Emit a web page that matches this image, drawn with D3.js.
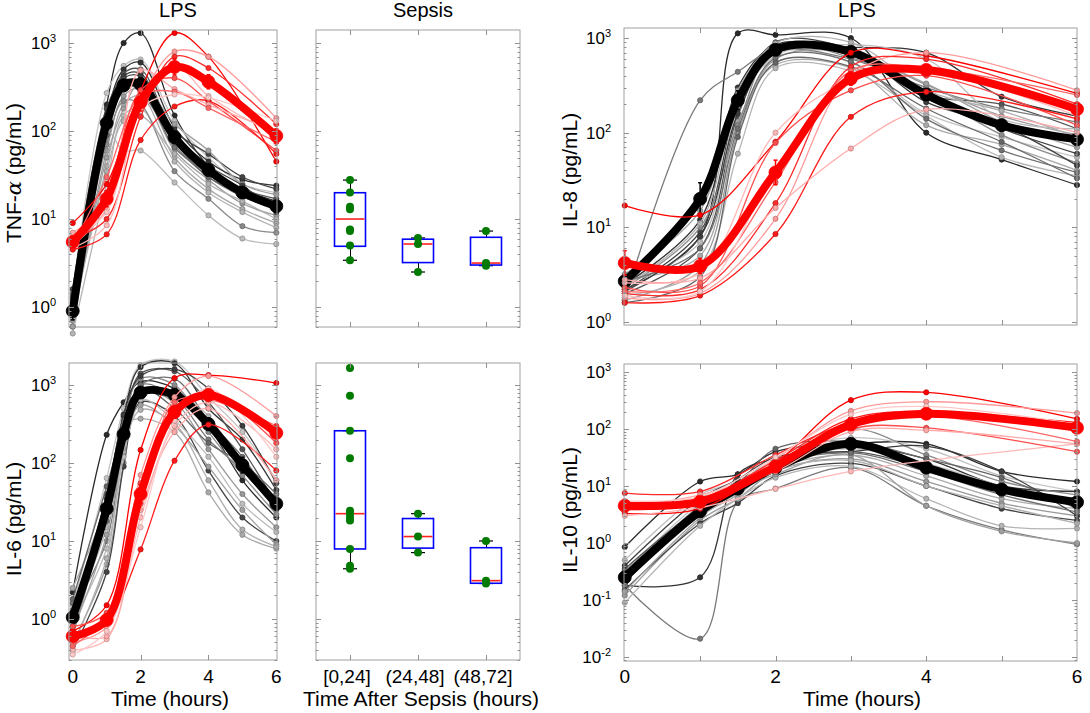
<!DOCTYPE html>
<html>
<head>
<meta charset="utf-8">
<script src="https://cdn.jsdelivr.net/npm/d3@7"></script>
<style>
body { margin: 0; background: #fff; }
svg text { font-family: "Liberation Sans", Arial, sans-serif; fill: #000; }
</style>
</head>
<body>
<svg width="1090" height="713"></svg>
<script>
// sample times (hours)
var grayTimes = [0, 1, 1.5, 2, 3, 4, 5, 6];
var redTimes = [0, 1, 2, 3, 4, 6];

// TNF-alpha, LPS
var tnfGray = [
  [0.6, 200, 1000, 1300, 150, 40, 22, 16],
  [1.5, 270, 550, 650, 130, 50, 25, 20],
  [1.0, 150, 500, 600, 110, 45, 28, 24],
  [0.8, 120, 450, 500, 90, 38, 22, 17],
  [1.2, 80, 300, 380, 70, 30, 18, 13],
  [0.7, 60, 250, 300, 60, 28, 15, 11],
  [1.6, 180, 400, 420, 100, 55, 30, 22],
  [0.9, 40, 200, 250, 50, 22, 13, 9],
  [0.5, 25, 150, 180, 45, 20, 12, 8],
  [1.1, 100, 60, 60, 26, 11, 6, 5.2],
  [0.9, 70, 220, 200, 35, 17, 8.3, 7],
  [1.3, 90, 350, 280, 75, 30, 19, 14],
  [0.6, 50, 180, 350, 120, 60, 25, 19],
  [1.0, 130, 420, 450, 85, 40, 24, 12],
  [0.75, 35, 130, 150, 55, 25, 16, 10],
  [1.4, 110, 380, 330, 65, 33, 20, 15]
];
var tnfRed = [
  [9, 25, 290, 1300, 700, 45],
  [5, 13, 215, 800, 700, 140],
  [6, 10, 145, 700, 520, 120],
  [4.7, 8.5, 200, 560, 250, 90],
  [5.5, 20, 290, 400, 220, 60],
  [4.5, 6.7, 79, 190, 220, 55],
  [7, 15, 490, 300, 200, 100],
  [5, 30, 250, 280, 183, 75],
  [6, 12, 180, 260, 240, 130]
];
var tnfBlackMean = [0.9, 123, 330, 340, 85, 36, 20, 14];
var tnfBlackErr = [0.1, 0.08, 0.07, 0.07, 0.07, 0.06, 0.05, 0.05];
var tnfRedMean = [5.5, 17, 213, 535, 363, 88];
var tnfRedErr = [0.05, 0.09, 0.1, 0.09, 0.08, 0.08];

// IL-8, LPS
var il8Gray = [
  [2.2, 8, 1120, 1080, 1000, 100, 52, 28],
  [3.0, 20, 250, 700, 550, 160, 90, 55],
  [2.5, 12, 300, 850, 800, 700, 240, 150],
  [2.0, 6, 150, 800, 650, 250, 200, 110],
  [1.7, 220, 440, 750, 600, 300, 180, 130],
  [1.7, 4, 100, 600, 700, 320, 150, 95],
  [2.2, 9, 200, 900, 750, 230, 110, 60],
  [2.8, 5, 130, 520, 480, 120, 75, 40],
  [1.9, 3.5, 60, 480, 450, 150, 55, 35],
  [2.6, 7, 180, 650, 850, 600, 140, 110],
  [2.3, 10, 120, 780, 620, 270, 95, 48],
  [1.6, 3, 90, 550, 500, 180, 80, 33],
  [3.2, 15, 280, 820, 680, 330, 130, 70],
  [2.1, 8, 160, 700, 720, 210, 120, 45],
  [2.4, 11, 230, 880, 900, 280, 170, 90],
  [2.7, 6, 110, 620, 560, 140, 65, 38]
];
var il8Red = [
  [17, 13.5, 80, 700, 650, 260],
  [1.8, 2.0, 12.3, 400, 700, 280],
  [2.0, 2.2, 18, 500, 600, 200],
  [2.6, 3.3, 100, 350, 450, 150],
  [2.3, 2.4, 78, 280, 400, 120],
  [1.6, 1.9, 8.5, 147, 270, 140],
  [2.8, 2.9, 16, 68, 175, 100],
  [2.1, 2.6, 30, 450, 480, 250],
  [1.9, 2.1, 40, 380, 420, 180]
];
var il8BlackMean = [2.7, 20, 220, 750, 715, 253, 120, 85];
var il8BlackErr = [0.05, 0.17, 0.1, 0.05, 0.05, 0.06, 0.06, 0.05];
var il8RedMean = [4.2, 3.9, 38, 373, 460, 177];
var il8RedErr = [0.13, 0.08, 0.13, 0.07, 0.05, 0.06];

// IL-6, LPS
var il6Gray = [
  [2.2, 230, 600, 1100, 900, 300, 60, 20],
  [1.5, 64, 500, 1800, 2000, 700, 250, 60],
  [1.0, 40, 400, 1700, 1900, 500, 200, 45],
  [0.8, 20, 250, 1400, 1500, 600, 150, 30],
  [1.3, 10, 180, 1000, 700, 200, 80, 25],
  [0.5, 5, 100, 800, 600, 150, 40, 15],
  [0.4, 4, 90, 600, 400, 80, 20, 10],
  [2.5, 30, 300, 370, 250, 42, 12, 8],
  [1.1, 15, 200, 700, 800, 400, 90, 35],
  [0.9, 8, 120, 650, 350, 120, 30, 13],
  [0.6, 25, 350, 1200, 1000, 250, 70, 22],
  [1.8, 50, 280, 900, 500, 180, 100, 40],
  [0.7, 12, 150, 550, 300, 90, 25, 9],
  [1.2, 35, 420, 1300, 1600, 900, 300, 55],
  [0.45, 6, 140, 480, 320, 60, 14, 8.5],
  [1.6, 18, 230, 1000, 1200, 350, 120, 28]
];
var il6Red = [
  [0.7, 1.5, 147, 1230, 1340, 1060],
  [0.5, 0.8, 70, 700, 1300, 400],
  [0.6, 1.0, 40, 450, 750, 250],
  [0.4, 0.55, 20, 300, 600, 150],
  [0.8, 1.2, 55, 500, 800, 180],
  [0.55, 0.9, 7.8, 107, 310, 80],
  [0.65, 0.6, 25, 250, 500, 60],
  [0.45, 1.1, 30, 600, 650, 300],
  [0.35, 0.7, 15, 350, 900, 120]
];
var il6BlackMean = [1.05, 26, 234, 800, 745, 315, 94, 30];
var il6BlackErr = [0.08, 0.1, 0.08, 0.05, 0.06, 0.08, 0.1, 0.08];
var il6RedMean = [0.6, 0.97, 40, 450, 745, 243];
var il6RedErr = [0.06, 0.06, 0.12, 0.08, 0.06, 0.1];

// IL-10, LPS
var il10Gray = [
  [0.85, 12, 16, 40, 55, 55, 18, 12],
  [0.3, 5, 10, 35, 70, 45, 15, 8],
  [0.18, 0.25, 16, 30, 50, 30, 10, 8],
  [0.35, 4, 8, 25, 40, 20, 8, 6],
  [0.18, 0.021, 5.3, 9, 21, 4.5, 1.7, 0.95],
  [0.12, 2.5, 6, 18, 30, 12, 5, 3],
  [0.15, 2.2, 5, 15, 25, 10, 4, 2.5],
  [0.25, 3, 7, 20, 35, 15, 6, 4],
  [0.09, 2, 6, 14, 22, 6, 2, 1.8],
  [0.5, 7, 12, 28, 45, 25, 10, 5],
  [0.2, 3.5, 9, 22, 100, 35, 12, 7],
  [0.28, 4.5, 11, 45, 60, 30, 14, 4],
  [0.14, 2.8, 8, 16, 35, 4.5, 1.6, 1.0],
  [0.4, 6, 13, 32, 40, 50, 18, 3],
  [0.22, 3.2, 7.5, 19, 28, 10, 4.5, 2.2],
  [0.32, 4, 9, 24, 38, 18, 7, 3.5]
];
var il10Red = [
  [3.3, 4, 25, 320, 440, 150],
  [4.5, 5, 30, 207, 300, 190],
  [7.5, 8, 35, 130, 190, 130],
  [3.0, 4.2, 8.9, 18, null, 55],
  [4, 5.5, 20, 100, 105, 40],
  [5, 6, 28, 150, 200, 100],
  [4.2, 7, 18, 90, 95, 55],
  [3.8, 5, 22, 110, 170, 60],
  [5.5, 6.5, 32, 180, 250, 120]
];
var il10BlackMean = [0.25, 3.6, 9, 21, 55, 21, 8.7, 5.2];
var il10BlackErr = [0.1, 0.06, 0.05, 0.05, 0.05, 0.06, 0.06, 0.06];
var il10RedMean = [4.5, 5.3, 22, 120, 185, 105];
var il10RedErr = [0.05, 0.05, 0.06, 0.07, 0.06, 0.07];

// sepsis box plots: [low whisker, q1, median, q3, high whisker]
var sepsisGroups = ["[0,24]", "(24,48]", "(48,72]"];
var sepsisTnfBox = [[3.4, 4.9, 10, 19.9, 27.7], [2.5, 3.2, 5.2, 5.9, 6.1], [2.95, 3.0, 3.16, 6.2, 7.3]];
var sepsisTnfPoints = [[27.7, 20, 13.8, 12.9, 7.6, 7.3, 5.0, 3.4], [6.1, 5.2, 2.5], [7.3, 3.16, 2.95]];
var sepsisIl6Box = [[4.4, 7.9, 22.4, 259, 259], [7.1, 8.1, 11.4, 19.4, 22.4], [2.85, 2.87, 3.1, 8.2, 10]];
var sepsisIl6Points = [[1650, 730, 259, 115, 24.5, 22.3, 20.2, 18.3, 7.9, 4.8, 4.4], [22.4, 11.4, 7.1], [10, 3.1, 2.85]];

// line shades
var grayShades = ["#2a2a2a", "#c4c4c4", "#333333", "#555555", "#7a7a7a", "#999999", "#444444", "#aaaaaa",
  "#b5b5b5", "#bdbdbd", "#8a8a8a", "#666666", "#a0a0a0", "#3d3d3d", "#b0b0b0", "#707070"];
var redShades = ["#ff0000", "#ff9a9a", "#ff2a2a", "#ffb8b8", "#ff4d4d", "#ff1a1a", "#ffaaaa", "#ff6666", "#ffc8c8"];

var svg = d3.select("svg");

function frame(g, x, y, box, xTicks) {
  g.append("rect")
    .attr("x", box.left).attr("y", box.top)
    .attr("width", box.right - box.left).attr("height", box.bottom - box.top)
    .attr("fill", "none").attr("stroke", "#a0a0a0").attr("stroke-width", 1);

  var d = y.domain();
  var lo = Math.floor(Math.log10(d[0])), hi = Math.ceil(Math.log10(d[1]));
  for (var e = lo; e <= hi; e++) {
    for (var k = 1; k <= 9; k++) {
      var v = k * Math.pow(10, e);
      if (v < d[0] || v > d[1]) continue;
      var len = k == 1 ? 5 : 2.5;
      var yy = Math.round(y(v)) + 0.5;
      g.append("line").attr("x1", box.left).attr("x2", box.left + len).attr("y1", yy).attr("y2", yy)
        .attr("stroke", "#909090");
      g.append("line").attr("x1", box.right).attr("x2", box.right - len).attr("y1", yy).attr("y2", yy)
        .attr("stroke", "#909090");
    }
  }
  xTicks.forEach(function(t) {
    var xx = Math.round(x(t)) + 0.5;
    g.append("line").attr("x1", xx).attr("x2", xx).attr("y1", box.top).attr("y2", box.top + 5).attr("stroke", "#909090");
    g.append("line").attr("x1", xx).attr("x2", xx).attr("y1", box.bottom).attr("y2", box.bottom - 5).attr("stroke", "#909090");
  });
}

function yLabels(g, y, xEnd) {
  var d = y.domain();
  var lo = Math.ceil(Math.log10(d[0]) - 1e-9), hi = Math.floor(Math.log10(d[1]) + 1e-9);
  for (var e = lo; e <= hi; e++) {
    var t = g.append("text").attr("x", xEnd).attr("y", y(Math.pow(10, e)) + 6)
      .attr("text-anchor", "end").style("font-size", "17px");
    t.append("tspan").text("10");
    t.append("tspan").attr("dy", -7).style("font-size", "11px").text(e);
  }
}

function drawSeries(g, x, y, times, vals, color, width, r, dotFill, dotStroke) {
  var pts = times.map(function(t, i) { return [t, vals[i]]; })
    .filter(function(p) { return p[1] != null; });
  var line = d3.line()
    .x(function(p) { return x(p[0]); })
    .y(function(p) { return y(p[1]); })
    .curve(d3.curveCatmullRom.alpha(0.5));
  g.append("path").datum(pts).attr("d", line)
    .attr("fill", "none").attr("stroke", color).attr("stroke-width", width)
    .attr("stroke-linejoin", "round").attr("stroke-linecap", "round");
  g.selectAll(null).data(pts).enter().append("circle")
    .attr("cx", function(p) { return x(p[0]); })
    .attr("cy", function(p) { return y(p[1]); })
    .attr("r", r).attr("fill", dotFill).attr("stroke", dotStroke).attr("stroke-width", 0.8);
}

function errBars(g, x, y, times, vals, errs, color) {
  times.forEach(function(t, i) {
    var lo = vals[i] / Math.pow(10, errs[i]), hi = vals[i] * Math.pow(10, errs[i]);
    var xx = x(t);
    g.append("line").attr("x1", xx).attr("x2", xx).attr("y1", y(lo)).attr("y2", y(hi))
      .attr("stroke", color).attr("stroke-width", 1.5);
    [lo, hi].forEach(function(v) {
      g.append("line").attr("x1", xx - 2).attr("x2", xx + 2).attr("y1", y(v)).attr("y2", y(v))
        .attr("stroke", color).attr("stroke-width", 1.5);
    });
  });
}

function lpsPanel(box, xDomain, yDomain, xTicks, labelEnd, gray, red, bMean, bErr, rMean, rErr) {
  var x = d3.scaleLinear().domain(xDomain).range([box.left, box.right]);
  var y = d3.scaleLog().domain(yDomain).range([box.bottom, box.top]);
  var g = svg.append("g");

  gray.forEach(function(vals, i) {
    var c = grayShades[i % grayShades.length];
    drawSeries(g, x, y, grayTimes, vals, c, 1.3, 2.6, c, d3.color(c).darker(0.8));
  });
  errBars(g, x, y, grayTimes, bMean, bErr, "#000");
  drawSeries(g, x, y, grayTimes, bMean, "#000", 8, 6.5, "#000", "#000");
  red.forEach(function(vals, i) {
    var c = redShades[i % redShades.length];
    drawSeries(g, x, y, redTimes, vals, c, 1.3, 2.6, c, d3.color(c).darker(0.8));
  });
  errBars(g, x, y, redTimes, rMean, rErr, "#ff0000");
  drawSeries(g, x, y, redTimes, rMean, "#ff0000", 8, 6.5, "#ff0000", "#ff0000");

  frame(g, x, y, box, xTicks);
  yLabels(g, y, labelEnd);
  return x;
}

function sepsisPanel(box, yDomain, boxes, points) {
  var x = d3.scaleBand().domain(sepsisGroups).range([box.left, box.right]);
  var y = d3.scaleLog().domain(yDomain).range([box.bottom, box.top]);
  var g = svg.append("g");
  var cx = function(name) { return x(name) + x.bandwidth() / 2; };
  frame(g, { }, y, box, []);
  sepsisGroups.forEach(function(name, i) {
    var b = boxes[i], c = cx(name), w = 31, cw = 14;
    var xx = Math.round(c) + 0.5;
    g.append("line").attr("x1", xx).attr("x2", xx).attr("y1", y(b[0])).attr("y2", y(b[1])).attr("stroke", "#000");
    g.append("line").attr("x1", xx).attr("x2", xx).attr("y1", y(b[3])).attr("y2", y(b[4])).attr("stroke", "#000");
    [b[0], b[4]].forEach(function(v) {
      g.append("line").attr("x1", c - cw / 2).attr("x2", c + cw / 2).attr("y1", y(v)).attr("y2", y(v))
        .attr("stroke", "#000").attr("stroke-width", 1.2);
    });
    g.append("rect").attr("x", c - w / 2).attr("y", y(b[3]))
      .attr("width", w).attr("height", y(b[1]) - y(b[3]))
      .attr("fill", "none").attr("stroke", "#0000ff").attr("stroke-width", 1.6);
    g.append("line").attr("x1", c - w / 2 + 1).attr("x2", c + w / 2 - 1).attr("y1", y(b[2])).attr("y2", y(b[2]))
      .attr("stroke", "#ff2020").attr("stroke-width", 1.6);
    g.selectAll(null).data(points[i]).enter().append("circle")
      .attr("cx", c).attr("cy", function(v) { return y(v); })
      .attr("r", 4).attr("fill", "#007a00");
  });
  // category ticks
  sepsisGroups.forEach(function(name) {
    var xx = Math.round(cx(name)) + 0.5;
    g.append("line").attr("x1", xx).attr("x2", xx).attr("y1", box.top).attr("y2", box.top + 5).attr("stroke", "#909090");
    g.append("line").attr("x1", xx).attr("x2", xx).attr("y1", box.bottom).attr("y2", box.bottom - 5).attr("stroke", "#909090");
  });
  return cx;
}

function yTitle(x, y, parts) {
  var t = svg.append("text").attr("transform", "translate(" + x + "," + y + ") rotate(-90)")
    .attr("text-anchor", "middle").style("font-size", "21px");
  parts.forEach(function(p) {
    var s = t.append("tspan").text(p[0]);
    if (p[1]) s.style("font-style", "italic").style("font-family", "'DejaVu Serif', serif");
  });
}

function text(x, y, s, size) {
  svg.append("text").attr("x", x).attr("y", y).attr("text-anchor", "middle")
    .style("font-size", (size || 20) + "px").text(s);
}

// panels
var tnfBox = { left: 69, right: 277, top: 30, bottom: 327 };
var il6Box = { left: 69, right: 277, top: 363, bottom: 660 };
var il8Box = { left: 624, right: 1077, top: 28, bottom: 325 };
var il10Box = { left: 624, right: 1077, top: 364, bottom: 661 };

lpsPanel(tnfBox, [-0.11, 6.02], [Math.pow(10, -0.227), Math.pow(10, 3.148)], [2, 4], 56,
  tnfGray, tnfRed, tnfBlackMean, tnfBlackErr, tnfRedMean, tnfRedErr);
var xL = lpsPanel(il6Box, [-0.11, 6.02], [Math.pow(10, -0.526), Math.pow(10, 3.282)], [2, 4], 56,
  il6Gray, il6Red, il6BlackMean, il6BlackErr, il6RedMean, il6RedErr);
lpsPanel(il8Box, [-0.01, 6.0], [Math.pow(10, -0.032), Math.pow(10, 3.106)], [1, 2, 3, 4, 5], 611,
  il8Gray, il8Red, il8BlackMean, il8BlackErr, il8RedMean, il8RedErr);
var xR = lpsPanel(il10Box, [-0.01, 6.0], [Math.pow(10, -2.07), Math.pow(10, 3.14)], [1, 2, 3, 4, 5], 611,
  il10Gray, il10Red, il10BlackMean, il10BlackErr, il10RedMean, il10RedErr);

sepsisPanel({ left: 316, right: 520, top: 30, bottom: 327 }, [Math.pow(10, -0.227), Math.pow(10, 3.148)],
  sepsisTnfBox, sepsisTnfPoints);
var cx = sepsisPanel({ left: 316, right: 520, top: 363, bottom: 660 }, [Math.pow(10, -0.526), Math.pow(10, 3.282)],
  sepsisIl6Box, sepsisIl6Points);

// titles
text(178, 17, "LPS");
text(423, 17, "Sepsis");
text(857, 17, "LPS");

// y titles
yTitle(21, 173, [["TNF-"], ["\u03b1", true], [" (pg/mL)"]]);
yTitle(21, 519, [["IL-6 (pg/mL)"]]);
yTitle(577, 170, [["IL-8 (pg/mL)"]]);
yTitle(577, 510, [["IL-10 (pg/mL)"]]);

// x tick labels
[0, 2, 4, 6].forEach(function(t) {
  text(xL(t), 683, t, 19);
  text(xR(t), 683, t, 19);
});
sepsisGroups.forEach(function(name, i) { text(cx(name) - 3, 683, name, 19); });

// x titles
text(170, 706, "Time (hours)", 21);
text(421, 706, "Time After Sepsis (hours)", 21);
text(862, 706, "Time (hours)", 21);
</script>
</body>
</html>
